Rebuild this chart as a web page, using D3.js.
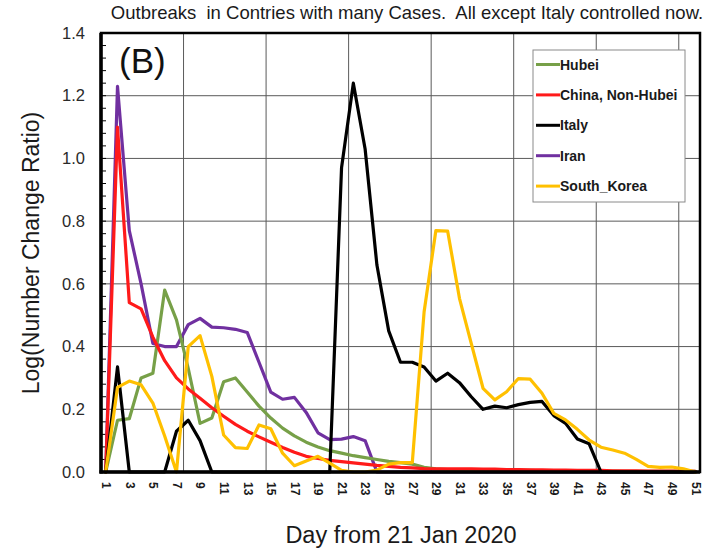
<!DOCTYPE html>
<html>
<head>
<meta charset="utf-8">
<script src="https://cdn.jsdelivr.net/npm/d3@7"></script>
<style>
  html, body { margin: 0; padding: 0; background: #fff; }
  svg { display: block; font-family: "Liberation Sans", Arial, sans-serif; }
</style>
</head>
<body>
<svg id="chart" width="707" height="549"></svg>
<script>
// Day index 1..51 (day 1 = 21 Jan 2020)
const days = d3.range(1, 52);

// Log(Number Change Ratio) per day for each outbreak
const hubei = [0, 0.165, 0.17, 0.30, 0.315, 0.58, 0.485, 0.33, 0.155, 0.172,
  0.288, 0.30, 0.255, 0.21, 0.172, 0.14, 0.115, 0.095, 0.08, 0.068,
  0.06, 0.052, 0.046, 0.04, 0.034, 0.03, 0.025, 0.015, 0.01, 0.008,
  0.006, 0.006, 0.006, 0.005, 0.005, 0.005, 0.005, 0.004, 0.004, 0.004,
  0.003, 0.003, 0.003, 0.003, 0.002, 0.002, 0.002, 0.002, 0.002, 0.002, 0.002];

const chinaNonHubei = [0, 1.10, 0.54, 0.52, 0.43, 0.355, 0.30, 0.265, 0.235, 0.205,
  0.178, 0.152, 0.13, 0.112, 0.095, 0.078, 0.063, 0.05, 0.043, 0.037,
  0.033, 0.029, 0.025, 0.021, 0.018, 0.015, 0.013, 0.011, 0.01, 0.01,
  0.01, 0.01, 0.009, 0.009, 0.008, 0.008, 0.007, 0.007, 0.006, 0.006,
  0.005, 0.005, 0.005, 0.004, 0.004, 0.004, 0.003, 0.003, 0.003, 0.003, 0.002];

const italy = [0, 0.335, 0, 0, 0, 0, 0.13, 0.165, 0.10, 0,
  0, 0, 0, 0, 0, 0, 0, 0, 0, 0,
  0.97, 1.24, 1.03, 0.66, 0.45, 0.35, 0.35, 0.335, 0.29, 0.315,
  0.285, 0.24, 0.20, 0.21, 0.205, 0.215, 0.222, 0.225, 0.18, 0.155,
  0.105, 0.09, 0, 0, 0, 0, 0, 0, 0, 0, 0];

const iran = [0, 1.23, 0.77, 0.60, 0.41, 0.40, 0.40, 0.47, 0.49, 0.462,
  0.46, 0.455, 0.445, 0.35, 0.255, 0.232, 0.238, 0.19, 0.125, 0.103,
  0.105, 0.113, 0.10, 0, 0, 0, 0, 0, 0, 0,
  0, 0, 0, 0, 0, 0, 0, 0, 0, 0,
  0, 0, 0, 0, 0, 0, 0, 0, 0, 0, 0];

const southKorea = [0, 0.27, 0.29, 0.278, 0.22, 0.115, 0, 0.40, 0.435, 0.305,
  0.118, 0.078, 0.075, 0.15, 0.138, 0.06, 0.02, 0.035, 0.05, 0.028,
  0.005, 0, 0, 0.006, 0.025, 0.03, 0.03, 0.51, 0.77, 0.768,
  0.554, 0.41, 0.267, 0.23, 0.256, 0.298, 0.296, 0.251, 0.187, 0.166,
  0.136, 0.102, 0.079, 0.07, 0.06, 0.04, 0.018, 0.015, 0.016, 0.01, 0];

const seriesNames = ["Hubei", "China, Non-Hubei", "Italy", "Iran", "South_Korea"];
const seriesColors = ["#77a048", "#ff1a1a", "#000000", "#7030a0", "#ffc000"];
const seriesValues = [hubei, chinaNonHubei, italy, iran, southKorea];
// painting order (bottom to top)
const drawOrder = [3, 0, 1, 2, 4];

const yTicks = [0, 0.2, 0.4, 0.6, 0.8, 1.0, 1.2, 1.4];
const xTickDays = d3.range(1, 52, 2);

const svg = d3.select("#chart");
const plotLeft = 101, plotRight = 700, plotTop = 33, plotBottom = 472;

const x = d3.scaleLinear().domain([0.6, 51.4]).range([plotLeft, plotRight]);
const y = d3.scaleLinear().domain([0, 1.4]).range([plotBottom, plotTop]);

// title
svg.append("text")
  .attr("x", 407).attr("y", 19)
  .attr("text-anchor", "middle")
  .attr("font-size", 18.5)
  .attr("fill", "#1a1a1a")
  .style("white-space", "pre")
  .text("Outbreaks  in Contries with many Cases.  All except Italy controlled now.");

// grid
const grid = svg.append("g").attr("stroke", "#5a5a5a").attr("stroke-width", 1);
grid.selectAll("line.h").data(yTicks.slice(1, -1)).join("line")
  .attr("class", "h")
  .attr("x1", plotLeft).attr("x2", plotRight)
  .attr("y1", d => y(d)).attr("y2", d => y(d));
grid.selectAll("line.v").data(d3.range(7.6, 51.4, 7)).join("line")
  .attr("class", "v")
  .attr("y1", plotTop).attr("y2", plotBottom)
  .attr("x1", d => x(d)).attr("x2", d => x(d));

// minor ticks on the value axis
svg.append("g").attr("stroke", "#000").attr("stroke-width", 1)
  .selectAll("line").data(d3.range(0, 1.401, 0.04)).join("line")
  .attr("x1", plotLeft).attr("x2", plotLeft + 5)
  .attr("y1", d => y(d)).attr("y2", d => y(d));

// series lines
const line = d3.line()
  .x((d, i) => x(days[i]))
  .y(d => y(d))
  .curve(d3.curveLinear);

const lines = svg.append("g").attr("fill", "none")
  .attr("stroke-width", 3.2).attr("stroke-linejoin", "round").attr("stroke-linecap", "round");
drawOrder.forEach(k => {
  lines.append("path")
    .attr("d", line(seriesValues[k]))
    .attr("stroke", seriesColors[k]);
});

// frame
svg.append("rect")
  .attr("x", plotLeft).attr("y", plotTop)
  .attr("width", plotRight - plotLeft).attr("height", plotBottom - plotTop)
  .attr("fill", "none").attr("stroke", "#000").attr("stroke-width", 2.5);
svg.append("line").attr("x1", plotLeft).attr("x2", plotLeft).attr("y1", plotTop).attr("y2", plotBottom + 1.5)
  .attr("stroke", "#000").attr("stroke-width", 3.5);
svg.append("line").attr("x1", plotLeft - 1.5).attr("x2", plotRight).attr("y1", plotBottom).attr("y2", plotBottom)
  .attr("stroke", "#000").attr("stroke-width", 3.5);

// y axis labels
const yAxis = d3.axisLeft(y).tickValues(yTicks).tickFormat(d3.format(".1f")).tickSize(0).tickPadding(0);
const yg = svg.append("g").attr("transform", `translate(${plotLeft - 16},0)`).call(yAxis);
yg.select(".domain").remove();
yg.selectAll("text").attr("font-size", 16.5).attr("fill", "#2a2a2a")
  .attr("font-family", "Liberation Sans, Arial, sans-serif");

// x axis labels (rotated)
const xAxis = d3.axisBottom(x).tickValues(xTickDays).tickFormat(d3.format("d")).tickSize(0);
const xg = svg.append("g").attr("transform", `translate(0,${plotBottom})`).call(xAxis);
xg.select(".domain").remove();
xg.selectAll("text")
  .attr("font-size", 12).attr("font-weight", "bold").attr("fill", "#1a1a1a")
  .attr("font-family", "Liberation Sans, Arial, sans-serif")
  .attr("text-anchor", "start")
  .attr("dy", "0.35em")
  .attr("transform", "translate(0,10) rotate(90)")
  .attr("y", 0).attr("x", 0);

// axis titles
svg.append("text")
  .attr("x", 401).attr("y", 543)
  .attr("text-anchor", "middle")
  .attr("font-size", 23.5).attr("fill", "#1a1a1a")
  .text("Day from 21 Jan 2020");
svg.append("text")
  .attr("transform", "translate(39,253) rotate(-90)")
  .attr("text-anchor", "middle")
  .attr("font-size", 23).attr("fill", "#1a1a1a")
  .text("Log(Number Change Ratio)");

// panel tag
svg.append("text")
  .attr("x", 119).attr("y", 73)
  .attr("font-size", 35).attr("fill", "#111")
  .text("(B)");

// legend
const lg = svg.append("g");
lg.append("rect").attr("x", 533).attr("y", 50).attr("width", 152).attr("height", 152)
  .attr("fill", "#fff").attr("stroke", "#8a8a8a").attr("stroke-width", 1);
seriesNames.forEach((name, i) => {
  const ly = 64.5 + i * 30.4;
  lg.append("line").attr("x1", 536).attr("x2", 560).attr("y1", ly).attr("y2", ly)
    .attr("stroke", seriesColors[i]).attr("stroke-width", 3);
  lg.append("text").attr("x", 560).attr("y", ly).attr("dy", "0.36em")
    .attr("font-size", 14).attr("font-weight", "bold").attr("fill", "#1a1a1a")
    .text(name);
});
</script>
</body>
</html>
